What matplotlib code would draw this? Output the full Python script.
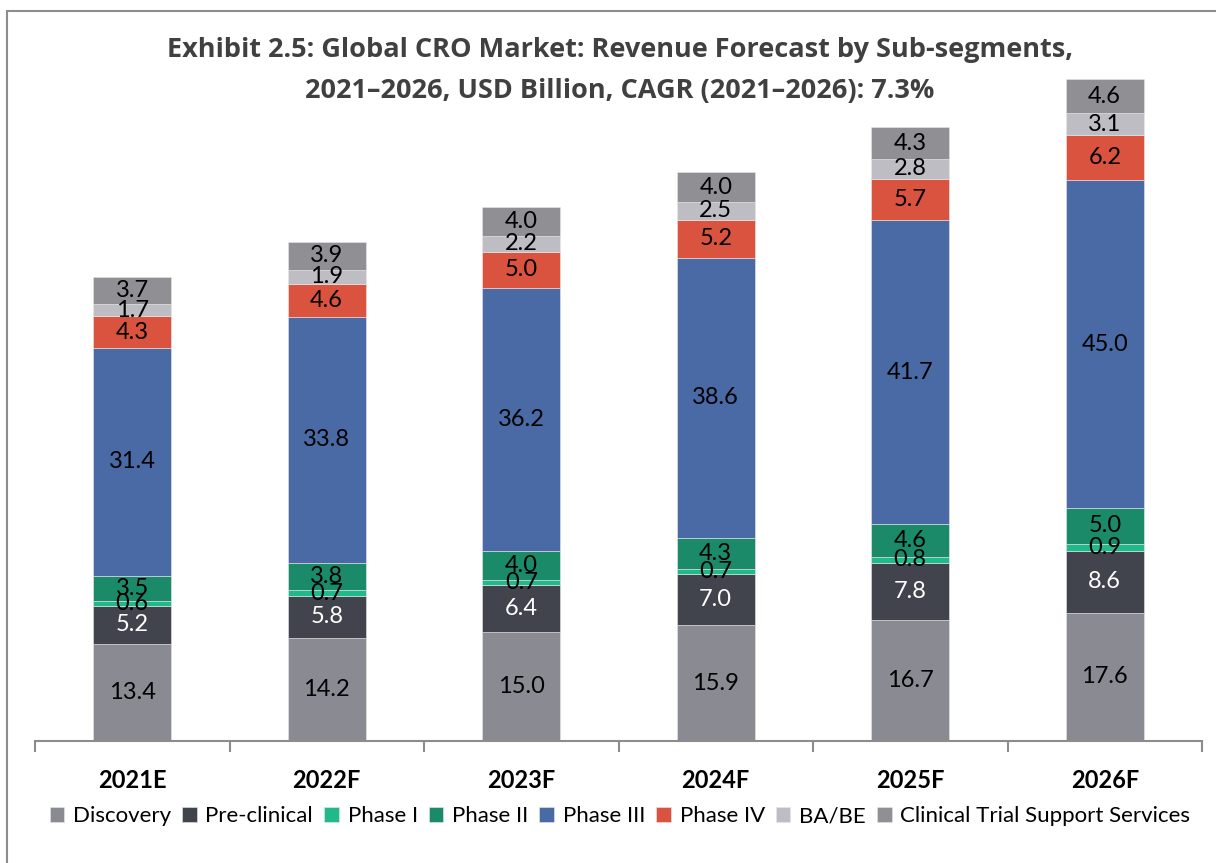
import matplotlib
matplotlib.use("Agg")
import matplotlib.pyplot as plt
from matplotlib.patches import Rectangle
import numpy as np

categories = ["2021E", "2022F", "2023F", "2024F", "2025F", "2026F"]
series_names = ["Discovery", "Pre-clinical", "Phase I", "Phase II", "Phase III",
                "Phase IV", "BA/BE", "Clinical Trial Support Services"]
discovery = [13.4, 14.2, 15.0, 15.9, 16.7, 17.6]
preclinical = [5.2, 5.8, 6.4, 7.0, 7.8, 8.6]
phase1 = [0.6, 0.7, 0.7, 0.7, 0.8, 0.9]
phase2 = [3.5, 3.8, 4.0, 4.3, 4.6, 5.0]
phase3 = [31.4, 33.8, 36.2, 38.6, 41.7, 45.0]
phase4 = [4.3, 4.6, 5.0, 5.2, 5.7, 6.2]
babe = [1.7, 1.9, 2.2, 2.5, 2.8, 3.1]
ctss = [3.7, 3.9, 4.0, 4.0, 4.3, 4.6]
series = [discovery, preclinical, phase1, phase2, phase3, phase4, babe, ctss]
colors = ["#8A8A93", "#41434D", "#21B98A", "#1A8A68", "#4A6AA5",
          "#D9533E", "#BEBDC3", "#8F8F94"]
label_colors = ["black", "white", "black", "black", "black", "black", "black", "black"]

plt.rcParams['font.family'] = ['Lato', 'DejaVu Sans']

fig = plt.figure(figsize=(12.16, 8.63), dpi=100)
ax = fig.add_axes([35/1216, 0.1414, (1202-35)/1216, 0.8424])

x = np.arange(len(categories))
bottom = np.zeros(len(categories))
for name, vals, c, lc in zip(series_names, series, colors, label_colors):
    vals = np.array(vals)
    ax.bar(x, vals, 0.40, bottom=bottom, color=c, label=name,
           edgecolor='#E8E8E8', linewidth=0.4)
    for xi, b, v in zip(x, bottom, vals):
        ax.text(xi, b + v/2, f"{v:.1f}", ha='center', va='center',
                fontsize=17, color=lc)
    bottom += vals

ax.set_xlim(-0.5, 5.5)
ax.set_ylim(0, 100)
for s in ['top', 'right', 'left']:
    ax.spines[s].set_visible(False)
ax.spines['bottom'].set_color('#8C8C8C')
ax.spines['bottom'].set_linewidth(1.5)
ax.set_yticks([])
ax.set_xticks(x)
ax.set_xticklabels(categories, fontsize=17, fontweight='bold')
ax.tick_params(axis='x', which='major', length=0, pad=20)
ax.set_xticks(np.arange(-0.5, 6.0, 1.0), minor=True)
ax.tick_params(axis='x', which='minor', length=8, width=1.5, color='#8C8C8C')

fig.text(620/1216, 1 - 50/863, "Exhibit 2.5: Global CRO Market: Revenue Forecast by Sub-segments,",
         ha='center', va='center', fontsize=19.5, fontweight='bold', color='#404040',
         family=['Open Sans', 'DejaVu Sans'])
fig.text(620/1216, 1 - 91/863, "2021–2026, USD Billion, CAGR (2021–2026): 7.3%",
         ha='center', va='center', fontsize=19.5, fontweight='bold', color='#404040',
         family=['Open Sans', 'DejaVu Sans'])

fig.legend(loc='center', bbox_to_anchor=(620/1216, 1 - 816/863), ncol=8,
           frameon=False, fontsize=16, handlelength=0.65, handleheight=0.65,
           handletextpad=0.4, columnspacing=0.5, borderpad=0.1)

fig.patches.append(Rectangle((7/1216, -0.1), 1.2, 1 - 11/863 + 0.1,
                             transform=fig.transFigure, fill=False,
                             edgecolor='#8C8C8C', linewidth=1.5))

fig.savefig("out.png", dpi=100)
